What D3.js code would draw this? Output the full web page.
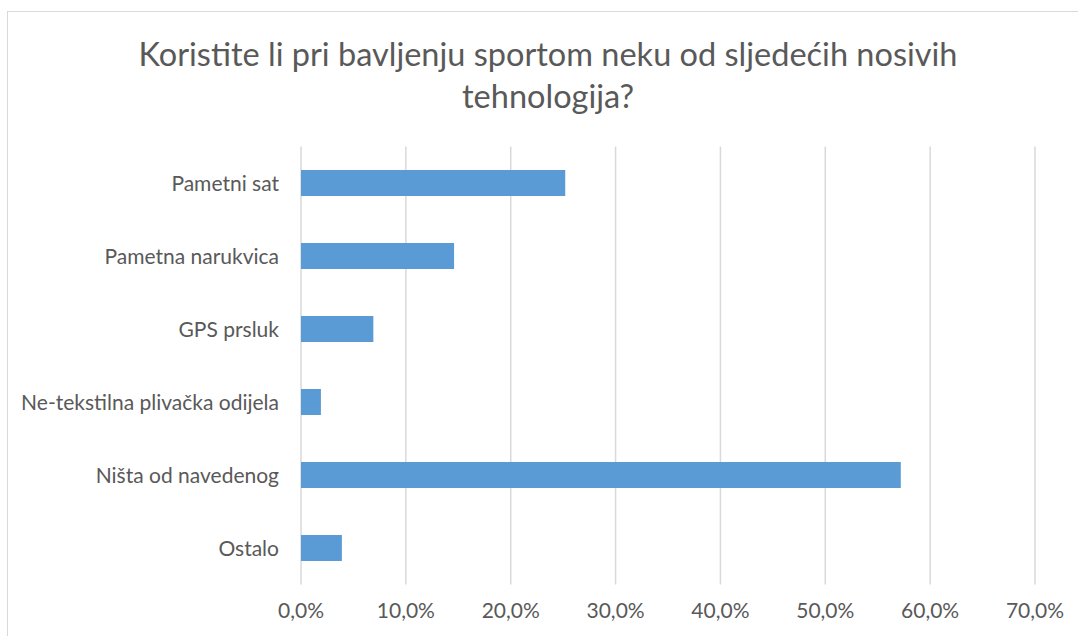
<!DOCTYPE html>
<html>
<head>
<meta charset="utf-8">
<script src="https://cdn.jsdelivr.net/npm/d3@7"></script>
<style>
  body { margin: 0; background: #fff; }
  svg text { font-family: Lato, "Open Sans", sans-serif; fill: #595959; }
</style>
</head>
<body>
<div id="chart"></div>
<script>
const titleLines = ["Koristite li pri bavljenju sportom neku od sljedećih nosivih", "tehnologija?"];
const categories = ["Pametni sat", "Pametna narukvica", "GPS prsluk", "Ne-tekstilna plivačka odijela", "Ništa od navedenog", "Ostalo"];
const values = [0.252, 0.146, 0.069, 0.019, 0.572, 0.039];
const xTicks = [0, 0.1, 0.2, 0.3, 0.4, 0.5, 0.6, 0.7];

const width = 1078;
const height = 636;

const svg = d3.select('#chart')
              .append('svg')
              .attr('width', width)
              .attr('height', height);

// chart frame
svg.append('rect')
   .attr('x', 7.5)
   .attr('y', 11.5)
   .attr('width', width)
   .attr('height', height)
   .attr('fill', 'none')
   .attr('stroke', '#d9d9d9')
   .attr('stroke-width', 1);

// title
svg.append('text')
   .attr('text-anchor', 'middle')
   .attr('font-size', 32.5)
   .selectAll('tspan')
   .data(titleLines)
   .enter()
   .append('tspan')
   .attr('x', 548)
   .attr('y', (d, i) => 66 + i * 42)
   .text(d => d);

const xScale = d3.scaleLinear()
                 .domain([0, 0.7])
                 .range([301, 1035]);

const yScale = d3.scaleBand()
                 .domain(categories)
                 .range([146.5, 584.5])
                 .paddingInner(0.644)
                 .paddingOuter(0.322);

// gridlines
svg.append('g')
   .selectAll('line')
   .data(xTicks)
   .enter()
   .append('line')
   .attr('x1', d => xScale(d))
   .attr('x2', d => xScale(d))
   .attr('y1', 146.5)
   .attr('y2', 584.5)
   .attr('stroke', '#d9d9d9')
   .attr('stroke-width', 1.5);

// bars
svg.append('g')
   .selectAll('rect')
   .data(values)
   .enter()
   .append('rect')
   .attr('x', xScale(0))
   .attr('y', (d, i) => yScale(categories[i]))
   .attr('width', d => xScale(d) - xScale(0))
   .attr('height', yScale.bandwidth())
   .attr('fill', '#5b9bd5');

// category labels
svg.append('g')
   .selectAll('text')
   .data(categories)
   .enter()
   .append('text')
   .attr('x', 279)
   .attr('y', d => yScale(d) + yScale.bandwidth() / 2)
   .attr('dy', '0.36em')
   .attr('text-anchor', 'end')
   .attr('font-size', 21)
   .text(d => d);

// x tick labels
svg.append('g')
   .selectAll('text')
   .data(xTicks)
   .enter()
   .append('text')
   .attr('x', d => xScale(d))
   .attr('y', 618)
   .attr('text-anchor', 'middle')
   .attr('font-size', 21)
   .text(d => (d * 100).toFixed(1).replace('.', ',') + '%');
</script>
</body>
</html>
